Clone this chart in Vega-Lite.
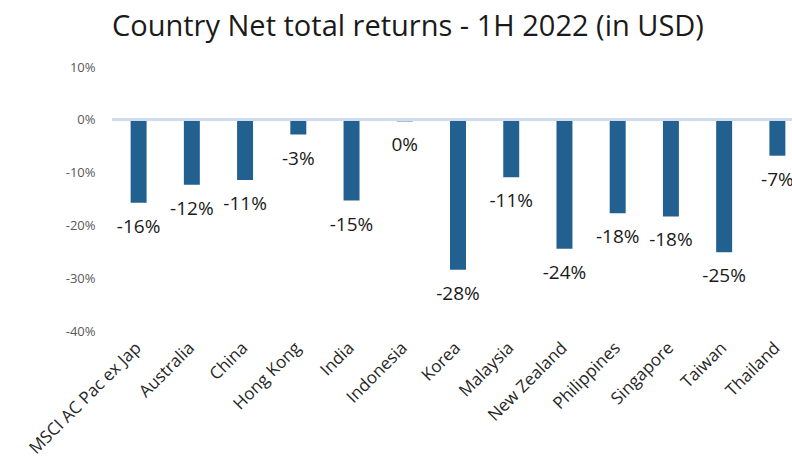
{
  "$schema": "https://vega.github.io/schema/vega-lite/v6.json",
  "autosize": "none",
  "padding": {"left": 112, "top": 67, "right": 0, "bottom": 144},
  "width": 692,
  "height": 264,
  "background": "white",
  "view": {"stroke": null},
  "title": {
    "text": "Country Net total returns - 1H 2022 (in USD)",
    "anchor": "start",
    "frame": "group",
    "font": "Open Sans",
    "fontSize": 29,
    "fontWeight": "normal",
    "color": "#1a1a1a",
    "offset": 19
  },
  "data": {
    "values": [
      {"country": "MSCI AC Pac ex Jap", "value": -0.157, "label": "-16%"},
      {"country": "Australia", "value": -0.123, "label": "-12%"},
      {"country": "China", "value": -0.114, "label": "-11%"},
      {"country": "Hong Kong", "value": -0.028, "label": "-3%"},
      {"country": "India", "value": -0.153, "label": "-15%"},
      {"country": "Indonesia", "value": -0.003, "label": "0%"},
      {"country": "Korea", "value": -0.284, "label": "-28%"},
      {"country": "Malaysia", "value": -0.109, "label": "-11%"},
      {"country": "New Zealand", "value": -0.244, "label": "-24%"},
      {"country": "Philippines", "value": -0.177, "label": "-18%"},
      {"country": "Singapore", "value": -0.183, "label": "-18%"},
      {"country": "Taiwan", "value": -0.251, "label": "-25%"},
      {"country": "Thailand", "value": -0.068, "label": "-7%"}
    ]
  },
  "encoding": {
    "x": {
      "field": "country",
      "type": "nominal",
      "sort": null,
      "scale": {"paddingInner": 0.7, "paddingOuter": 0.35},
      "axis": {
        "title": null,
        "domain": false,
        "ticks": false,
        "labelAngle": -45,
        "labelAlign": "right",
        "labelBaseline": "middle",
        "labelPadding": 14,
        "labelFont": "Open Sans",
        "labelFontSize": 17,
        "labelColor": "#262626"
      }
    }
  },
  "layer": [
    {
      "mark": {"type": "bar", "color": "#22608f"},
      "encoding": {
        "y": {
          "field": "value",
          "type": "quantitative",
          "scale": {"domain": [-0.4, 0.1], "nice": false},
          "axis": {
            "title": null,
            "domain": false,
            "ticks": false,
            "grid": false,
            "values": [-0.4, -0.3, -0.2, -0.1, 0, 0.1],
            "labelExpr": "replace(format(datum.value, '.0%'), '\u2212', '-')",
            "labelFont": "Open Sans",
            "labelFontSize": 13,
            "labelColor": "#595959",
            "labelPadding": 17
          }
        }
      }
    },
    {
      "mark": {"type": "rule", "color": "#cfdaee", "strokeWidth": 2},
      "encoding": {"y": {"datum": 0, "type": "quantitative"}, "x": {"value": 0}, "x2": {"value": 692}}
    },
    {
      "mark": {"type": "text", "baseline": "middle", "align": "center", "dy": 24, "font": "Open Sans", "fontSize": 19, "color": "#1a1a1a"},
      "encoding": {
        "y": {"field": "value", "type": "quantitative"},
        "text": {"field": "label"}
      }
    }
  ]
}
